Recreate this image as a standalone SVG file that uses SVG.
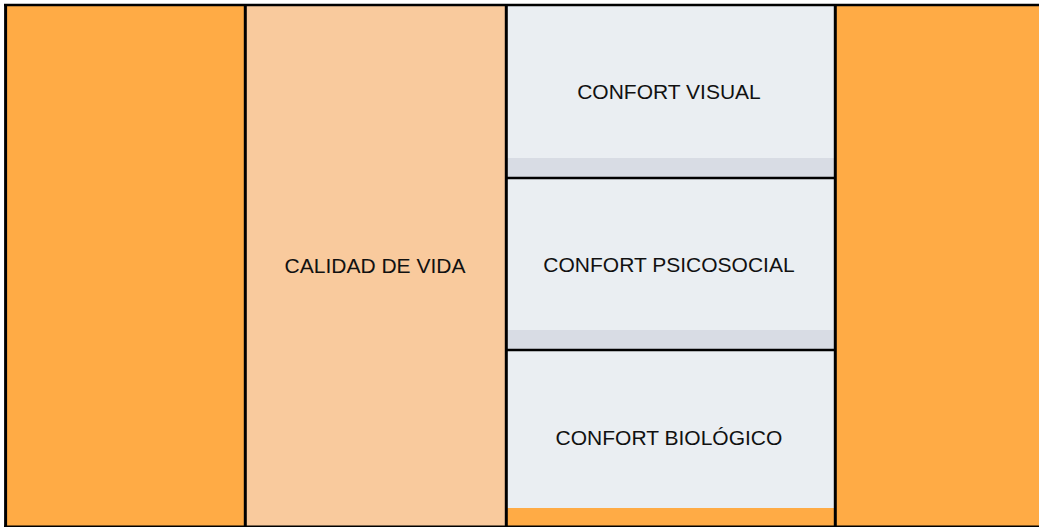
<svg xmlns="http://www.w3.org/2000/svg" width="1039" height="527" viewBox="0 0 1039 527">
<style>
.orange{fill:#FFAB45}
.peach{fill:#F9CA9D}
.box{fill:#EAEEF2}
.strip{fill:#D8DCE4}
.line{stroke:#000;fill:none}
.lbl{font-family:"Liberation Sans",Arial,sans-serif;font-size:21px;fill:#111;text-anchor:middle}
</style>
<rect x="0" y="0" width="1039" height="527" fill="#fff"/>
<g id="left-band"><rect class="orange" x="6" y="5" width="239" height="522"/></g>
<g id="calidad-de-vida">
<rect class="peach" x="245" y="5" width="261" height="522"/>
<text class="lbl" x="375" y="273">CALIDAD DE VIDA</text>
</g>
<g id="confort-visual">
<rect class="box" x="506" y="5" width="329" height="173"/>
<rect class="strip" x="506" y="158" width="329" height="20"/>
<text class="lbl" x="669" y="99">CONFORT VISUAL</text>
</g>
<g id="confort-psicosocial">
<rect class="box" x="506" y="178" width="329" height="172"/>
<rect class="strip" x="506" y="330" width="329" height="20"/>
<text class="lbl" x="669" y="272">CONFORT PSICOSOCIAL</text>
</g>
<g id="confort-biologico">
<rect class="box" x="506" y="350" width="329" height="177"/>
<rect class="orange" x="506" y="508" width="329" height="19"/>
<text class="lbl" x="669" y="445">CONFORT BIOLÓGICO</text>
</g>
<g id="right-band"><rect class="orange" x="835" y="5" width="204" height="522"/></g>
<g id="connectors">
<line class="line" x1="4" y1="5" x2="1039" y2="5" stroke-width="2.5"/>
<line class="line" x1="4" y1="526.3" x2="1039" y2="526.3" stroke-width="1.6"/>
<line class="line" x1="5.6" y1="4" x2="5.6" y2="527" stroke-width="3"/>
<line class="line" x1="245.3" y1="4" x2="245.3" y2="527" stroke-width="3"/>
<line class="line" x1="506.3" y1="4" x2="506.3" y2="527" stroke-width="3"/>
<line class="line" x1="835.3" y1="4" x2="835.3" y2="527" stroke-width="3"/>
<line class="line" x1="506" y1="178" x2="835" y2="178" stroke-width="2.3"/>
<line class="line" x1="506" y1="350" x2="835" y2="350" stroke-width="2.3"/>
</g>
</svg>
